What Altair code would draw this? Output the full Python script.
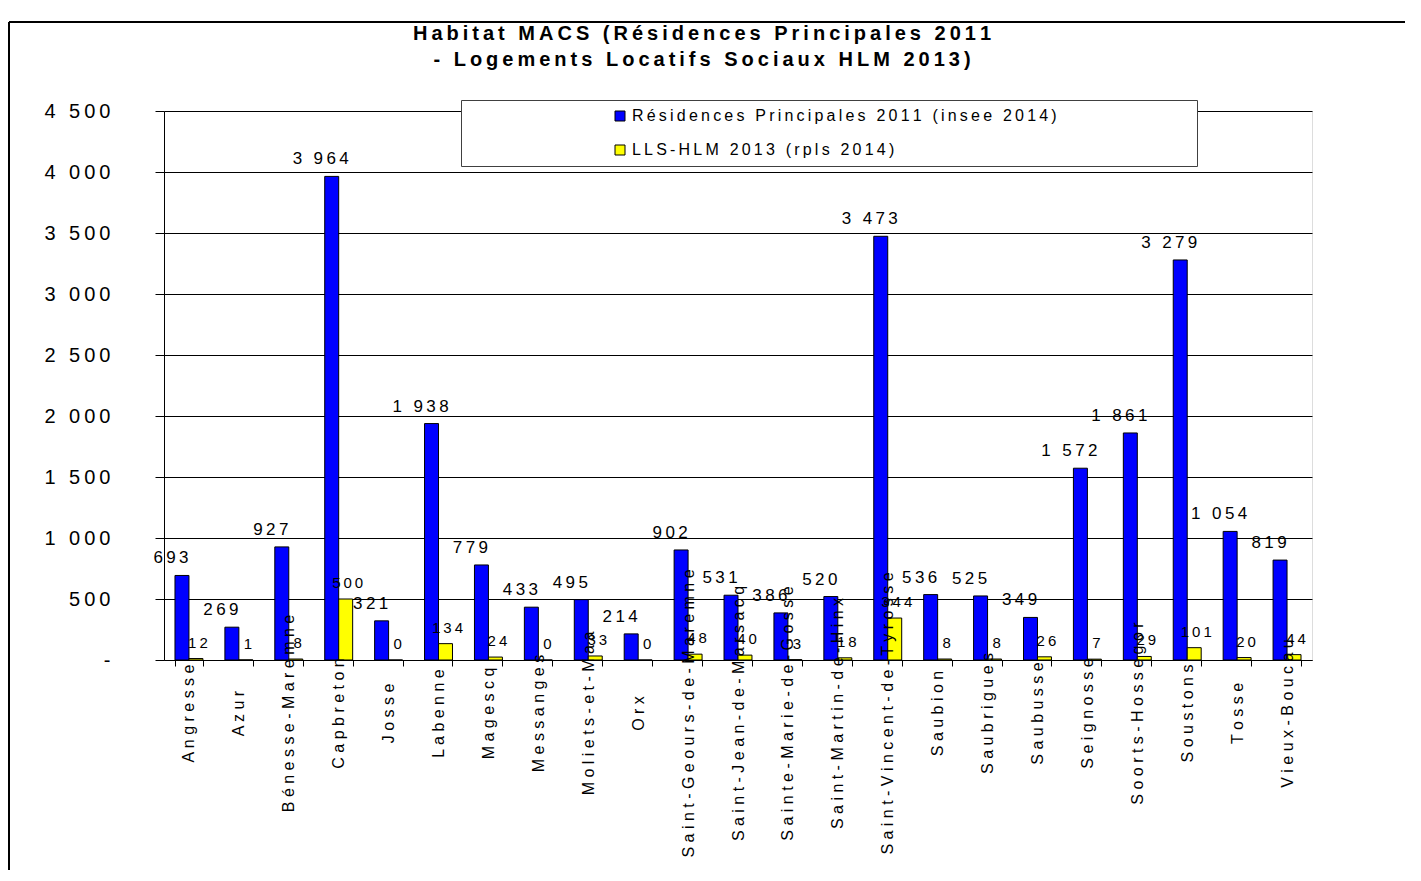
import altair as alt
import pandas as pd

communes = ["Angresse", "Azur", "Bénesse-Maremne", "Capbreton", "Josse", "Labenne",
            "Magescq", "Messanges", "Moliets-et-Maa", "Orx", "Saint-Geours-de-Maremne",
            "Saint-Jean-de-Marsacq", "Sainte-Marie-de-Gosse", "Saint-Martin-de-Hinx",
            "Saint-Vincent-de-Tyrosse", "Saubion", "Saubrigues", "Saubusse", "Seignosse",
            "Soorts-Hossegor", "Soustons", "Tosse", "Vieux-Boucau"]
residences = [693, 269, 927, 3964, 321, 1938, 779, 433, 495, 214, 902, 531, 386, 520,
              3473, 536, 525, 349, 1572, 1861, 3279, 1054, 819]
lls = [12, 1, 8, 500, 0, 134, 24, 0, 33, 0, 48, 40, 3, 18, 344, 8, 8, 26, 7, 29, 101, 20, 44]
series_names = ["Résidences Principales 2011 (insee 2014)", "LLS-HLM 2013 (rpls 2014)"]
colors = ["#0000FF", "#FFFF00"]
title_lines = ["Habitat MACS (Résidences Principales 2011", "- Logements Locatifs Sociaux HLM 2013)"]

rows = []
for c, r, l in zip(communes, residences, lls):
    rows.append({"commune": c, "serie": series_names[0], "valeur": r})
    rows.append({"commune": c, "serie": series_names[1], "valeur": l})
df = pd.DataFrame(rows)

FONT = "Liberation Sans"
TS = "\u2009"
PAD = "\u2800" * 11
W, H = 1148, 549


def spaced(s):
    return TS.join(list(s))


num_expr = "join(split(replace(format(datum.valeur, ','), ',', ' '), ''), '" + TS + "')"

x_enc = alt.X("commune:N", sort=communes,
              scale=alt.Scale(paddingInner=0.44, paddingOuter=0.22),
              axis=alt.Axis(title=None, labelAngle=270, labelAlign="center", labelBaseline="middle",
                            labelPadding=47, tickSize=6, tickBand="extent", labelFontSize=16,
                            labelFont=FONT, labelColor="black",
                            labelExpr="join(split(datum.label, ''), ' ')", labelOverlap=False,
                            labelLimit=600, domainColor="black", tickColor="black", zindex=1))
xo_enc = alt.XOffset("serie:N", sort=series_names, scale=alt.Scale(paddingInner=0, paddingOuter=0))
y_enc = alt.Y("valeur:Q", scale=alt.Scale(domain=[0, 4500], nice=False),
              axis=alt.Axis(title=None, values=list(range(0, 4501, 500)),
                            labelExpr="datum.value == 0 ? '-\u2007\u2007\u2007' : join(split(replace(format(datum.value, ','), ',', ' '), ''), '" + TS + "')",
                            labelFontSize=20, labelFont=FONT, labelColor="black",
                            tickSize=9, labelPadding=45, tickColor="black", domainColor="black",
                            gridColor="black", gridOpacity=1, gridWidth=1))

base = alt.Chart(df).encode(x=x_enc, xOffset=xo_enc, y=y_enc)

bars = base.mark_bar(stroke="black", strokeWidth=1).encode(
    color=alt.Color("serie:N", sort=series_names,
                    scale=alt.Scale(domain=series_names, range=colors),
                    legend=alt.Legend(title=None, orient="none", legendX=297, legendY=-11,
                                      direction="vertical", fillColor="white", strokeColor="#404040",
                                      padding=8, symbolType="square", symbolSize=100,
                                      symbolStrokeColor="black", symbolStrokeWidth=1,
                                      symbolOffset=143, labelFontSize=16, labelFont=FONT,
                                      labelColor="black", labelLimit=1000, rowPadding=18,
                                      labelExpr="join(split(datum.label, ''), '" + TS + "') + '" + PAD + "'"))
)

blue_labels = base.transform_filter(
    alt.datum.serie == series_names[0]
).transform_calculate(lab=num_expr).mark_text(
    fontSize=17, font=FONT, color="black", baseline="alphabetic", dy=-12, dx=-11
).encode(text="lab:N")

yellow_labels = base.transform_filter(
    alt.datum.serie == series_names[1]
).transform_calculate(lab=num_expr).mark_text(
    fontSize=15, font=FONT, color="black", baseline="alphabetic", dy=-11, dx=2
).encode(text="lab:N")

frame_src = alt.Chart(pd.DataFrame({"k": [0]}))
left_line = frame_src.mark_rule(color="black", strokeWidth=2).encode(
    x=alt.value(-155), y=alt.value(-89), y2=alt.value(759))
top_line = frame_src.mark_rule(color="black", strokeWidth=2).encode(
    x=alt.value(-155), x2=alt.value(1241), y=alt.value(-89))

chart = alt.layer(bars, blue_labels, yellow_labels, left_line, top_line).properties(
    width=W, height=H,
    padding={"left": 0, "top": 13, "right": 0, "bottom": 0},
    title=alt.TitleParams(text=[spaced(t) for t in title_lines], fontSize=20, font=FONT,
                          fontWeight="bold", color="black", anchor="middle", frame="group",
                          dx=-36, offset=-49, lineHeight=26)
).configure_view(fill="#C0C0C0", stroke="#808080", strokeWidth=1).configure(background="white")

chart.save("out.html", embed_options={"renderer": "svg", "actions": False})
